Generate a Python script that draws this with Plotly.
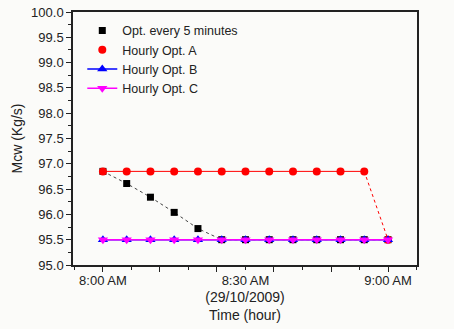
import plotly.graph_objects as go

# Time stamps (minutes after 8:00 AM on 29/10/2009)
minutes = [0, 5, 10, 15, 20, 25, 30, 35, 40, 45, 50, 55, 60]

# Cooling water mass flow (Kg/s)
opt_5min = [96.85, 96.61, 96.34, 96.04, 95.72, 95.5, 95.5, 95.5, 95.5, 95.5, 95.5, 95.5, 95.5]
hourly_a = [96.85, 96.85, 96.85, 96.85, 96.85, 96.85, 96.85, 96.85, 96.85, 96.85, 96.85, 96.85, 95.5]
hourly_b = [95.5] * 13
hourly_c = [95.5] * 13

x_label_vals = [0, 30, 60]
x_label_text = ["8:00 AM", "8:30 AM", "9:00 AM"]
x_major_ticks = [0, 12, 24, 36, 48, 60]

FONT = "Liberation Sans, Arial, sans-serif"
TXT = "#222222"
X_RANGE = [-6.3, 66.1]

fig = go.Figure()

# connecting lines (not in legend)
fig.add_trace(go.Scatter(x=minutes, y=opt_5min, mode="lines", showlegend=False,
                         line=dict(color="#444444", width=1, dash="dot")))
fig.add_trace(go.Scatter(x=minutes[:12], y=hourly_a[:12], mode="lines", showlegend=False,
                         line=dict(color="#ff0000", width=1)))
fig.add_trace(go.Scatter(x=minutes[11:], y=hourly_a[11:], mode="lines", showlegend=False,
                         line=dict(color="#ff0000", width=1, dash="dot")))

# markers
fig.add_trace(go.Scatter(x=minutes, y=opt_5min, mode="markers", name="Opt. every 5 minutes",
                         marker=dict(symbol="square", size=7, color="#000000")))
fig.add_trace(go.Scatter(x=minutes, y=hourly_a, mode="markers", name="Hourly Opt. A",
                         marker=dict(symbol="circle", size=8, color="#ff0000")))
fig.add_trace(go.Scatter(x=minutes, y=hourly_b, mode="lines+markers", name="Hourly Opt. B",
                         line=dict(color="#0000ff", width=1.5),
                         marker=dict(symbol="triangle-up", size=9, color="#0000ff")))
fig.add_trace(go.Scatter(x=minutes, y=hourly_c, mode="lines+markers", name="Hourly Opt. C",
                         line=dict(color="#ff00ff", width=1.5),
                         marker=dict(symbol="triangle-down", size=9, color="#ff00ff")))

# invisible trace to activate the label-only axis
fig.add_trace(go.Scatter(x=[0], y=[95], xaxis="x2", mode="markers", showlegend=False,
                         marker=dict(opacity=0), hoverinfo="skip"))

fig.update_layout(
    width=454, height=329,
    margin=dict(l=73, r=37, t=12, b=64, autoexpand=False),
    paper_bgcolor="#fbfbf9", plot_bgcolor="#fbfbf9",
    font=dict(family=FONT, size=13, color=TXT),
    legend=dict(x=0.027, y=0.985, xanchor="left", yanchor="top",
                bgcolor="rgba(0,0,0,0)", font=dict(size=12.5), tracegroupgap=0,
                itemwidth=30),
    # tick marks: long every 12 min, short in between
    xaxis=dict(
        range=X_RANGE, showgrid=False, zeroline=False, automargin=False,
        showline=True, linecolor="#222222", linewidth=1.5, mirror=True,
        tickmode="array", tickvals=x_major_ticks, ticktext=[""] * len(x_major_ticks),
        ticks="outside", ticklen=5, tickwidth=1.2, tickcolor="#222222",
        minor=dict(tickmode="linear", tick0=0, dtick=6, ticks="outside", ticklen=3,
                   tickwidth=1.2, tickcolor="#222222"),
        title=dict(text="(29/10/2009)<br>Time (hour)", font=dict(size=14, color=TXT), standoff=19),
    ),
    # hour labels
    xaxis2=dict(
        overlaying="x", anchor="y", side="bottom", range=X_RANGE, automargin=False,
        showgrid=False, zeroline=False, showline=False,
        tickmode="array", tickvals=x_label_vals, ticktext=x_label_text,
        ticks="", ticklabelstandoff=6, tickfont=dict(size=13, color=TXT),
    ),
    yaxis=dict(
        range=[95, 100], showgrid=False, zeroline=False, automargin=False,
        showline=True, linecolor="#222222", linewidth=1.5, mirror=True,
        tickmode="linear", tick0=95, dtick=0.5, tickformat=".1f",
        ticks="outside", ticklen=5, tickwidth=1.2, tickcolor="#222222",
        minor=dict(tickmode="linear", tick0=95, dtick=0.25, ticks="outside", ticklen=3,
                   tickwidth=1.2, tickcolor="#222222"),
        tickfont=dict(size=13, color=TXT),
        title=dict(text="Mcw (Kg/s)", font=dict(size=14, color=TXT), standoff=5),
    ),
)

fig.write_html("out.html")
